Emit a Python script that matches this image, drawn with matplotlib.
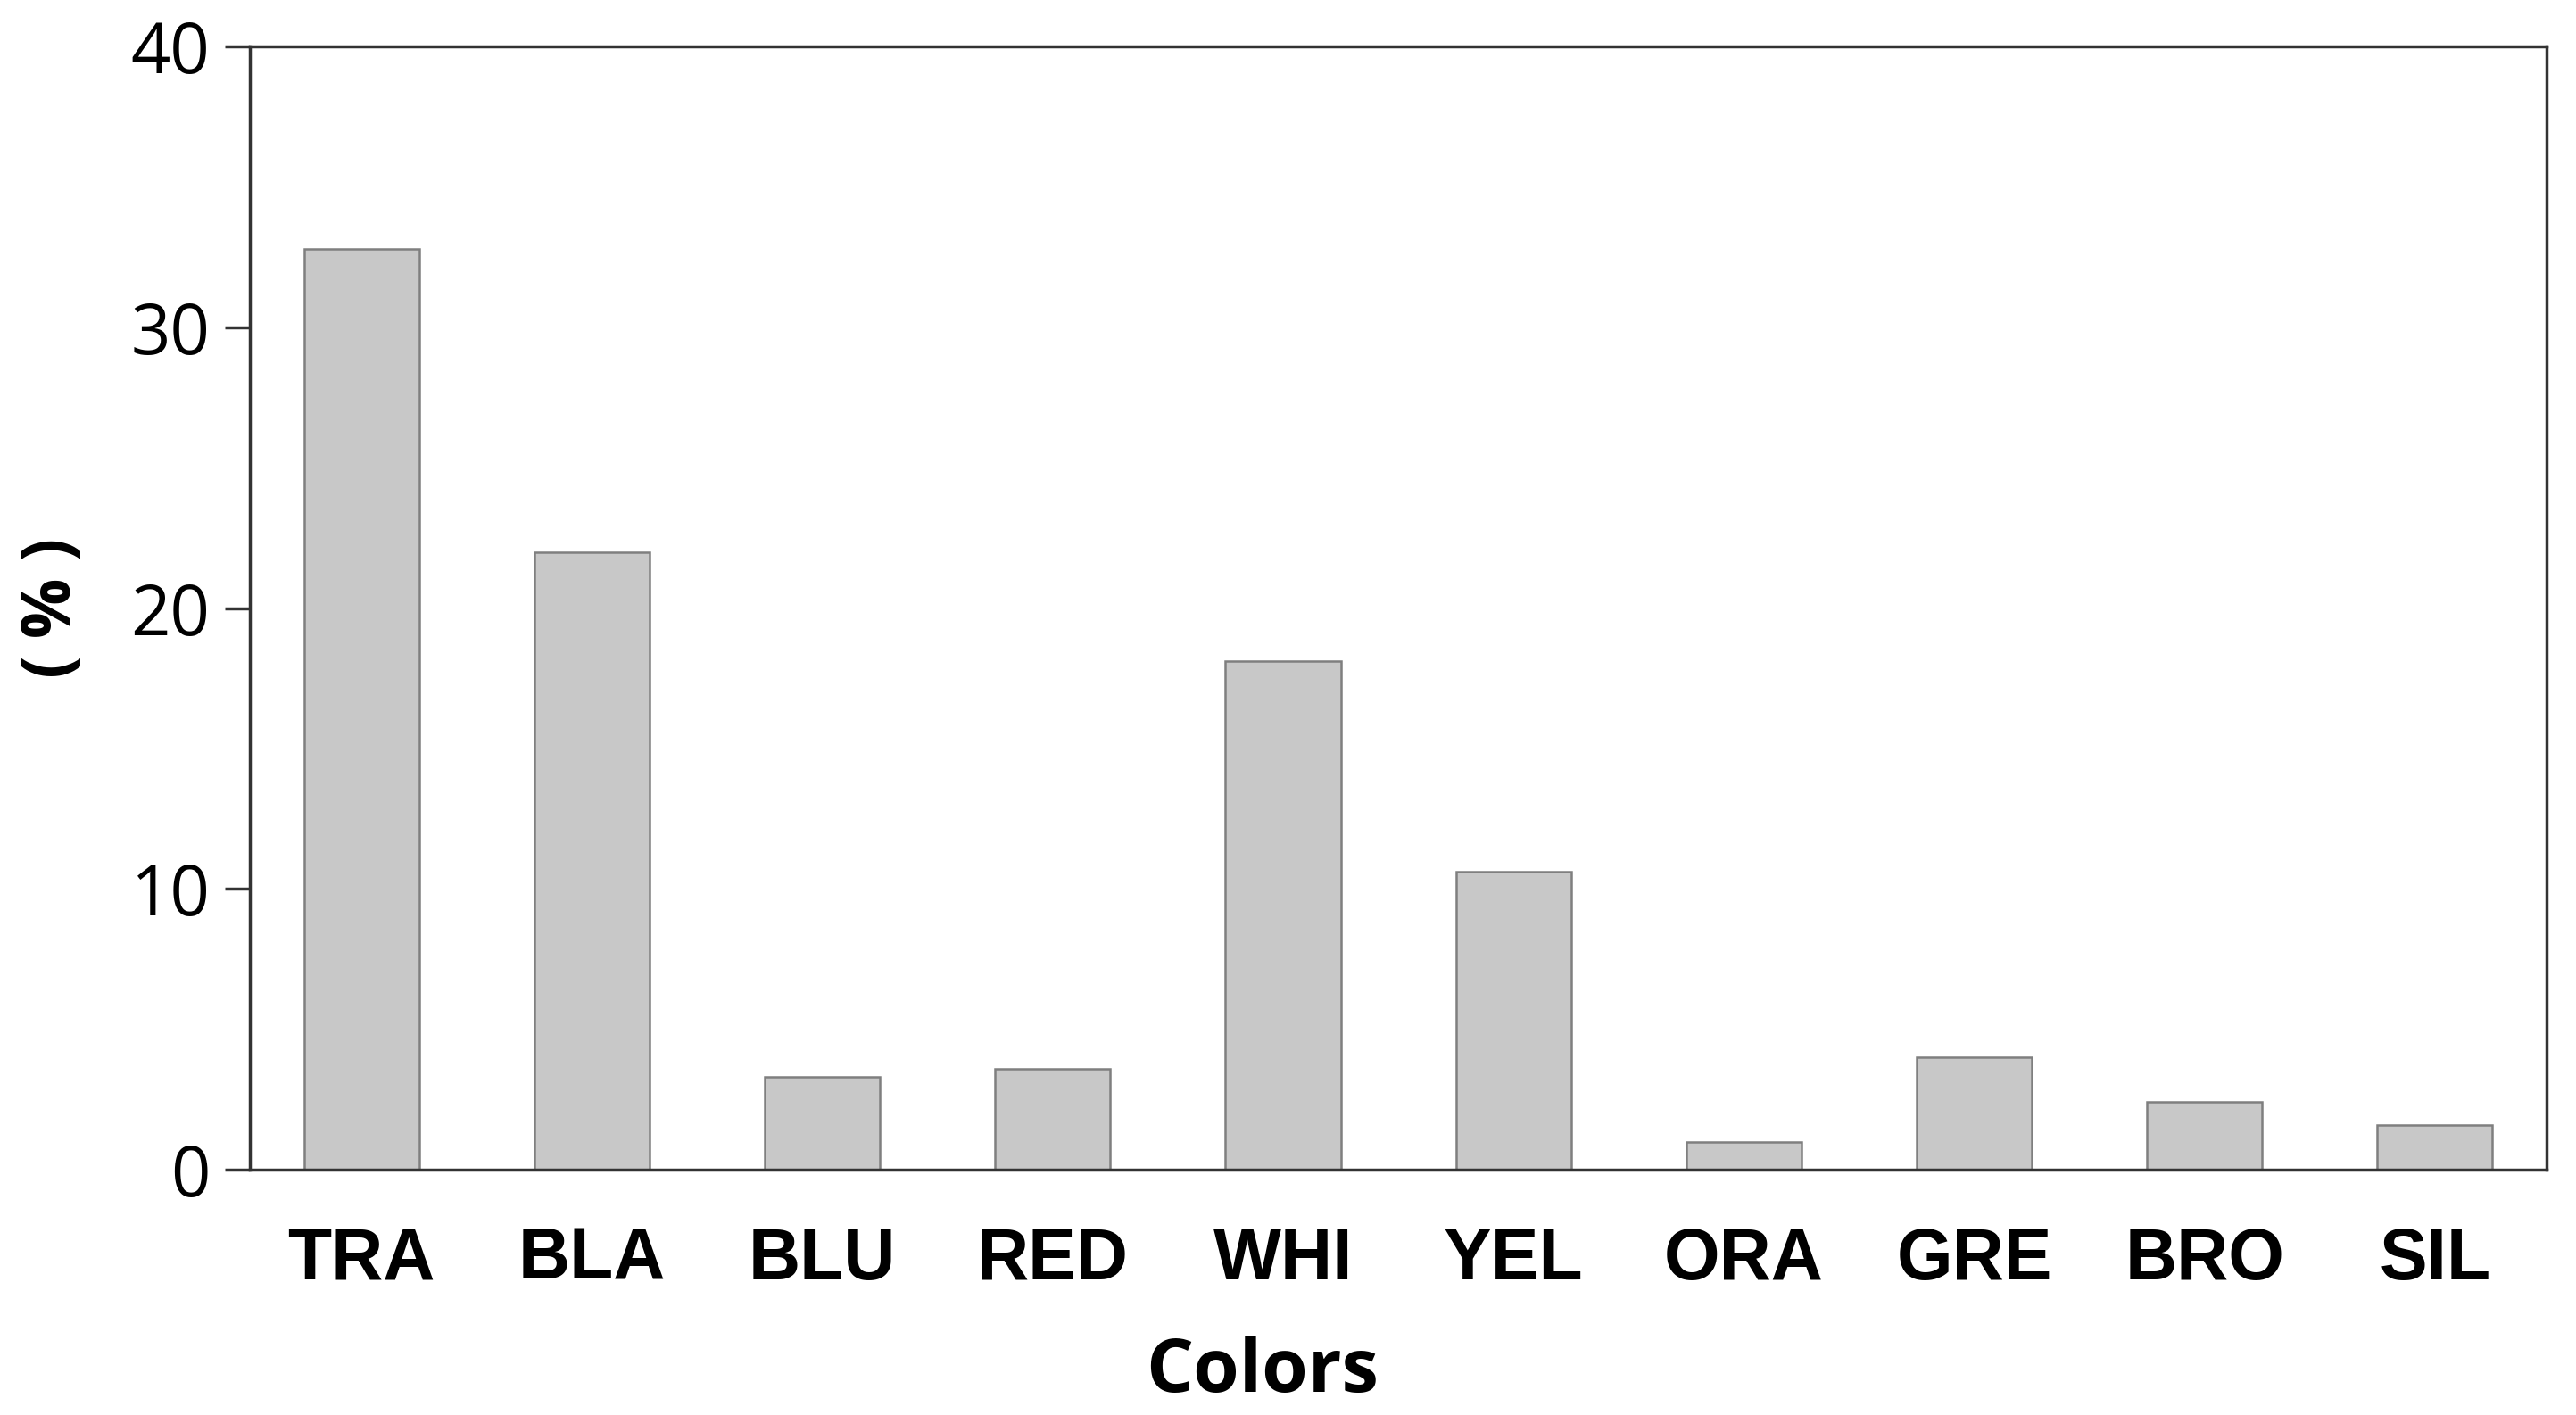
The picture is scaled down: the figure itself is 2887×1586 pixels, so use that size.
import numpy as np
import matplotlib.pyplot as plt

# 颜色类别与百分比
categories = ['TRA', 'BLA', 'BLU', 'RED', 'WHI', 'YEL', 'ORA', 'GRE', 'BRO', 'SIL']
percent = [32.8, 22.0, 3.3, 3.6, 18.1, 10.6, 1.0, 4.0, 2.4, 1.6]
y_ticks = [0, 10, 20, 30, 40]

fig = plt.figure(figsize=(28.87, 15.86), dpi=100)
ax = fig.add_axes([0.097, 0.1734, 0.8916, 0.7938])

x = np.arange(len(categories))
ax.bar(x, percent, width=0.5, color='#c8c8c8', edgecolor='#7f7f7f', linewidth=1.8, zorder=2)

ax.set_xlim(-0.485, len(categories) - 1 + 0.485)
ax.set_ylim(0, 40)
ax.set_yticks(y_ticks)
ax.set_yticklabels([str(v) for v in y_ticks], fontsize=56, family='Open Sans')
ax.set_xticks(x)
ax.set_xticklabels(categories, fontsize=58, fontweight='bold', family='Liberation Sans')

ax.tick_params(axis='y', direction='out', length=20, width=2.5, color='#333333', pad=12)
ax.tick_params(axis='x', length=0, pad=46)

for s in ax.spines.values():
    s.set_linewidth(2.5)
    s.set_color('#333333')

# x轴标题在整张图居中
fig.text(0.49, 0.03, 'Colors', fontsize=60, fontweight='bold', family='Open Sans',
         ha='center', va='center')
ax.set_ylabel('( % )', fontsize=54, fontweight='bold', family='Open Sans', labelpad=36)

fig.savefig('out.png', dpi=100)
